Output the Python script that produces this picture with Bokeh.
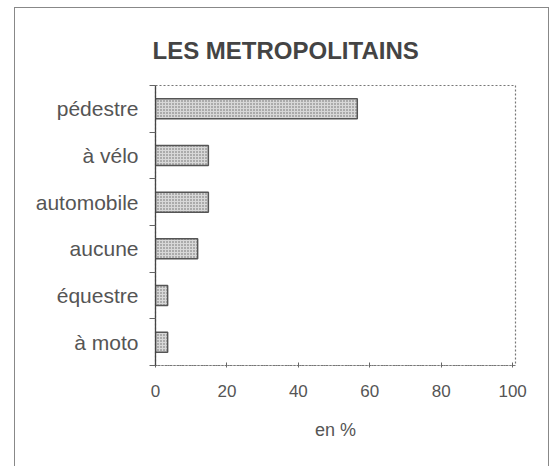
from bokeh.plotting import figure
from bokeh.models import Range1d, FixedTicker, ColumnDataSource
from bokeh.embed import file_html
from bokeh.resources import INLINE

title = "LES METROPOLITAINS"
categories = ["pédestre", "à vélo", "automobile", "aucune", "équestre", "à moto"]
values = [56.5, 14.8, 14.8, 11.8, 3.4, 3.4]
x_ticks = [0, 20, 40, 60, 80, 100]
x_label = "en %"

n = len(categories)
ypos = [n - i - 0.5 for i in range(n)]
src = ColumnDataSource(dict(y=ypos, v=values, c=categories))

p = figure(width=551, height=466, output_backend="svg", toolbar_location=None,
           x_range=Range1d(0, 100.8), y_range=Range1d(0, n),
           min_border_left=155, min_border_right=36, min_border_top=85, min_border_bottom=101)

p.title.text = title
p.title.text_font = "Liberation Sans"
p.title.text_font_size = "24px"
p.title.text_font_style = "bold"
p.title.text_color = "#444444"
p.title.align = "left"
p.title.offset = -3
p.title.vertical_align = "top"
p.title.standoff = 40

p.hbar(y="y", right="v", left=0, height=0.43, source=src,
       fill_color="#d8d8d8", line_color="#555555", line_width=1.5,
       hatch_pattern="dot", hatch_color="#666666", hatch_scale=3, hatch_weight=1)

p.grid.visible = False
p.outline_line_color = "#777777"
p.outline_line_dash = "2 2"
p.outline_line_width = 1.2

# x axis
xa = p.xaxis[0]
xa.ticker = FixedTicker(ticks=x_ticks)
xa.axis_line_color = "#777777"
xa.axis_line_dash = "2 1"
xa.major_tick_in = 3
xa.major_tick_out = 2
xa.major_tick_line_color = "#666666"
xa.minor_tick_line_color = None
xa.major_label_standoff = 17
xa.major_label_text_font = "Liberation Sans"
xa.major_label_text_font_size = "17px"
xa.major_label_text_color = "#555555"
xa.axis_label = x_label
xa.axis_label_text_font = "Liberation Sans"
xa.axis_label_text_font_size = "18px"
xa.axis_label_text_font_style = "normal"
xa.axis_label_text_color = "#555555"
xa.axis_label_standoff = 20

# y axis: labels at band centres, ticks at band boundaries
ya = p.yaxis[0]
ya.ticker = FixedTicker(ticks=ypos, minor_ticks=list(range(n + 1)))
ya.major_label_overrides = {y: c for y, c in zip(ypos, categories)}
ya.axis_line_color = "#444444"
ya.axis_line_width = 1.3
ya.major_tick_in = 0
ya.major_tick_out = 0
ya.minor_tick_in = 0
ya.minor_tick_out = 6
ya.minor_tick_line_color = "#666666"
ya.major_label_standoff = 11
ya.major_label_text_font = "Liberation Sans"
ya.major_label_text_font_size = "21px"
ya.major_label_text_color = "#555555"

# outer frame of the picture
p.stylesheets = [
    ":host::after { content: ''; position: absolute; left: 14px; top: 7px; "
    "right: 2px; bottom: 0px; border: 1.5px solid #888888; border-bottom: none; "
    "pointer-events: none; }"
]

open("out.html", "w").write(file_html(p, INLINE))
